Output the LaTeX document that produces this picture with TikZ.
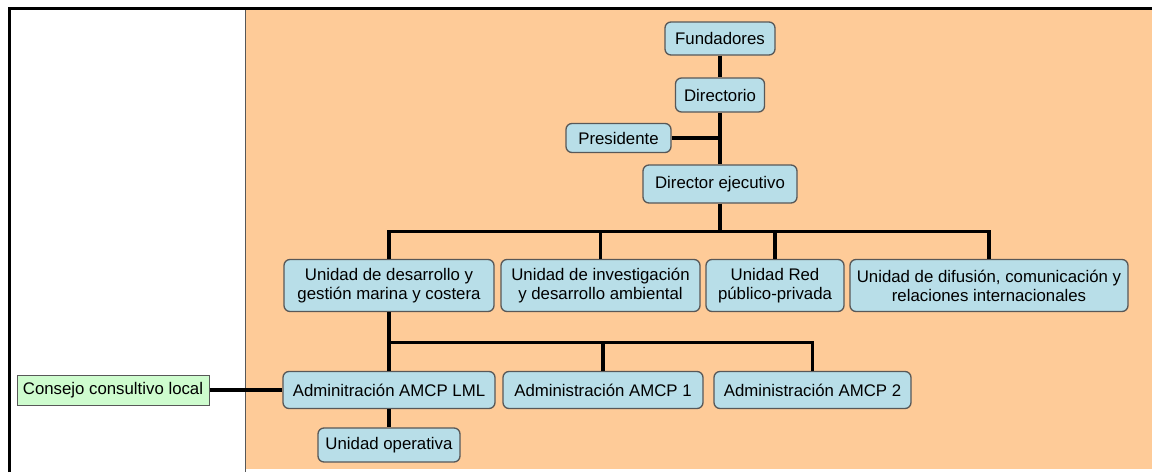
\documentclass[tikz,border=0pt]{standalone}
\usepackage{fontspec}
\setmainfont{Liberation Sans}
\usetikzlibrary{positioning,calc}
\definecolor{fondo}{RGB}{254,203,152}
\definecolor{caja}{RGB}{184,222,232}
\definecolor{verde}{RGB}{206,252,206}
\definecolor{borde}{RGB}{88,88,88}
\tikzset{
    unidad/.style={
        rectangle,
        rounded corners=6pt,
        draw=borde, line width=1.3pt,
        fill=caja,
        align=center,
        inner sep=2pt,
        font={\fontsize{16.8}{19}\selectfont}
    },
    consejo/.style={
        rectangle,
        draw=borde, line width=1pt,
        fill=verde,
        inner sep=2pt,
        font={\fontsize{16.8}{19}\selectfont}
    },
    enlace/.style={draw, line width=3.2pt, black},
}

\begin{document}
\begin{tikzpicture}[x=1pt, y=-1pt]

\useasboundingbox (0,0) rectangle (1152,472);

% fondo y marco
\fill[fondo] (245,9) rectangle (1152,469);
\draw[borde, line width=1pt] (245,9) -- (245,472);
\draw[line width=3pt] (9,472) -- (9,8) -- (1152,8);

% cabeza
\node[unidad, minimum width=110pt, minimum height=33pt] (fund) at (720,38.5) {Fundadores};
\node[unidad, minimum width=89pt, minimum height=34pt] (dir) at (720,95) {Directorio};
\node[unidad, minimum width=105pt, minimum height=29pt] (pres) at (618.5,138) {Presidente};
\node[unidad, minimum width=154pt, minimum height=38pt] (dirEj) at (720,184) {Director ejecutivo};

% unidades
\foreach \n/\x/\w/\t in {
    u1/389/210/{Unidad de desarrollo y\\gestión marina y costera},
    u2/600.5/199/{Unidad de investigación\\y desarrollo ambiental},
    u3/775/138/{Unidad Red\\público-privada},
    u4/989/278/{Unidad de difusión, comunicación y\\relaciones internacionales}}
  \node[unidad, minimum width=\w pt, minimum height=52pt] (\n) at (\x,285.5) {\t};

% administraciones
\foreach \n/\x/\w/\t in {
    lml/389/212/{Adminitración AMCP LML},
    a1/603/200/{Administración AMCP 1},
    a2/812.5/197/{Administración AMCP 2}}
  \node[unidad, minimum width=\w pt, minimum height=37pt] (\n) at (\x,390) {\t};

\node[unidad, minimum width=142pt, minimum height=34pt] (op) at (389,445) {Unidad operativa};
\node[consejo, minimum width=192pt, minimum height=30pt] (cons) at (113,390) {Consejo consultivo local};

% enlaces
\draw[enlace] (fund) -- (dir);
\draw[enlace] (dir) -- (dirEj);
\draw[enlace] (pres) -- (pres -| dir);

\draw[enlace] (dirEj.south) -- ++(0,28) coordinate (bus1);
\foreach \n in {u1,u2,u3,u4}
  \draw[enlace] (\n.north) |- (bus1);

\draw[enlace] (u1.south) -- ++(0,30) coordinate (bus2);
\foreach \n in {lml,a1,a2}
  \draw[enlace] (\n.north) |- (bus2);

\draw[enlace] (lml) -- (op);
\draw[enlace] (cons) -- (lml);

\end{tikzpicture}
\end{document}
